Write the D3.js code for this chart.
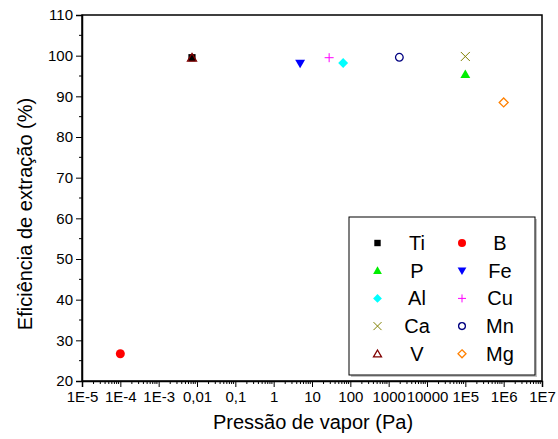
<!DOCTYPE html>
<html><head><meta charset="utf-8">
<script src="https://cdn.jsdelivr.net/npm/d3@7"></script>
<style>body{margin:0;background:#fff}text{font-family:"Liberation Sans",Arial,sans-serif}</style>
</head><body><svg id="c" width="558" height="439"></svg>
<script>
const elements = ["Ti","B","P","Fe","Al","Cu","Ca","Mn","V","Mg"];
const pressures = [0.0074, 1e-4, 1e5, 4.9, 65, 28, 1e5, 1900, 0.0074, 1e6];
const efficiencies = [99.5, 26.7, 95.4, 98.1, 98.2, 99.5, 99.8, 99.6, 99.5, 88.5];
const colors = ["#000000","#ff0000","#00ee00","#0000ff","#00ffff","#ff00ff","#808000","#000080","#800000","#ff8000"];
const shapes = ["squareF","circleF","triUpF","triDownF","diamondF","plus","cross","circleO","triUpO","diamondO"];
const xTickLabels = ["1E-5","1E-4","1E-3","0,01","0,1","1","10","100","1000","10000","1E5","1E6","1E7"];
const yTicks = [20,30,40,50,60,70,80,90,100,110];

const svg = d3.select("#c");
const L=82,R=542,T=15,B=381;
const x = d3.scaleLog().domain([1e-5,1e7]).range([L,R]);
const y = d3.scaleLinear().domain([20,110]).range([B,T]);

svg.append("rect").attr("x",L).attr("y",T).attr("width",R-L).attr("height",B-T)
  .attr("fill","none").attr("stroke","#000").attr("stroke-width",1.5);

const ya = svg.append("g").attr("transform",`translate(${L},0)`)
  .call(d3.axisLeft(y).tickValues(yTicks).tickSize(6).tickPadding(3));
ya.attr("font-size",15).attr("font-family","Liberation Sans, Arial, sans-serif");
ya.selectAll(".tick text").attr("font-size",15).attr("fill","#000");
ya.select(".domain").attr("stroke-width",1.5);
const yMinor = d3.range(25,110,10);
svg.append("g").selectAll("line").data(yMinor).join("line")
  .attr("x1",L-3).attr("x2",L).attr("y1",d=>y(d)).attr("y2",d=>y(d)).attr("stroke","#000");

const majors = d3.range(-5,8).map(e=>Math.pow(10,e));
const xa = svg.append("g").attr("transform",`translate(0,${B})`)
  .call(d3.axisBottom(x).tickValues(majors).tickSize(6).tickPadding(4)
    .tickFormat((d,i)=>xTickLabels[i]));
xa.attr("font-size",15).attr("font-family","Liberation Sans, Arial, sans-serif");
xa.selectAll(".tick text").attr("font-size",15).attr("fill","#000");
xa.select(".domain").attr("stroke-width",1.5);
const minors=[];
for(let e=-5;e<7;e++) for(let k=2;k<10;k++) minors.push(k*Math.pow(10,e));
svg.append("g").selectAll("line").data(minors).join("line")
  .attr("x1",d=>x(d)).attr("x2",d=>x(d)).attr("y1",B).attr("y2",B+3).attr("stroke","#000");

svg.append("text").attr("x",313).attr("y",429).attr("text-anchor","middle")
  .attr("font-size",20).text("Pressão de vapor (Pa)");
svg.append("text").attr("transform","translate(32,214) rotate(-90)").attr("text-anchor","middle")
  .attr("font-size",20).text("Eficiência de extração (%)");

function drawMarker(g, shape, color, s){
  const sw=1.3;
  switch(shape){
    case "squareF": g.append("rect").attr("x",-s*0.8).attr("y",-s*0.8).attr("width",s*1.6).attr("height",s*1.6).attr("fill",color); break;
    case "circleF": g.append("circle").attr("r",s).attr("fill",color); break;
    case "circleO": g.append("circle").attr("r",s*0.85).attr("fill","none").attr("stroke",color).attr("stroke-width",sw); break;
    case "triUpF": g.append("path").attr("d",`M0,${-s*1.1}L${s*1.1},${s*0.8}L${-s*1.1},${s*0.8}Z`).attr("fill",color); break;
    case "triUpO": g.append("path").attr("d",`M0,${-s*0.95}L${s},${s*0.75}L${-s},${s*0.75}Z`).attr("fill","none").attr("stroke",color).attr("stroke-width",sw); break;
    case "triDownF": g.append("path").attr("d",`M0,${s*1.1}L${s*1.1},${-s*0.8}L${-s*1.1},${-s*0.8}Z`).attr("fill",color); break;
    case "diamondF": g.append("path").attr("d",`M0,${-s*1.1}L${s*1.1},0L0,${s*1.1}L${-s*1.1},0Z`).attr("fill",color); break;
    case "diamondO": g.append("path").attr("d",`M0,${-s}L${s},0L0,${s}L${-s},0Z`).attr("fill","none").attr("stroke",color).attr("stroke-width",sw); break;
    case "plus": g.append("path").attr("d",`M${-s},0H${s}M0,${-s}V${s}`).attr("stroke",color).attr("stroke-width",1); break;
    case "cross": g.append("path").attr("d",`M${-s},${-s}L${s},${s}M${-s},${s}L${s},${-s}`).attr("stroke",color).attr("stroke-width",1); break;
  }
}

elements.forEach((el,i)=>{
  const g = svg.append("g").attr("transform",`translate(${x(pressures[i])},${y(efficiencies[i])})`);
  drawMarker(g, shapes[i], colors[i], 4.5);
});

svg.append("rect").attr("x",351).attr("y",219).attr("width",186).attr("height",158)
  .attr("fill","#999").attr("opacity",0.6);
svg.append("rect").attr("x",349).attr("y",217).attr("width",186).attr("height",158)
  .attr("fill","#fff").attr("stroke","#000").attr("stroke-width",1);
elements.forEach((el,i)=>{
  const col=i%2, row=Math.floor(i/2);
  const mx = col===0?377.5:462, tx = col===0?417:500;
  const yy = 243 + row*27.7;
  const g = svg.append("g").attr("transform",`translate(${mx},${yy})`);
  drawMarker(g, shapes[i], colors[i], 4);
  svg.append("text").attr("x",tx).attr("y",yy+7).attr("text-anchor","middle")
    .attr("font-size",20).text(el);
});
</script></body></html>
